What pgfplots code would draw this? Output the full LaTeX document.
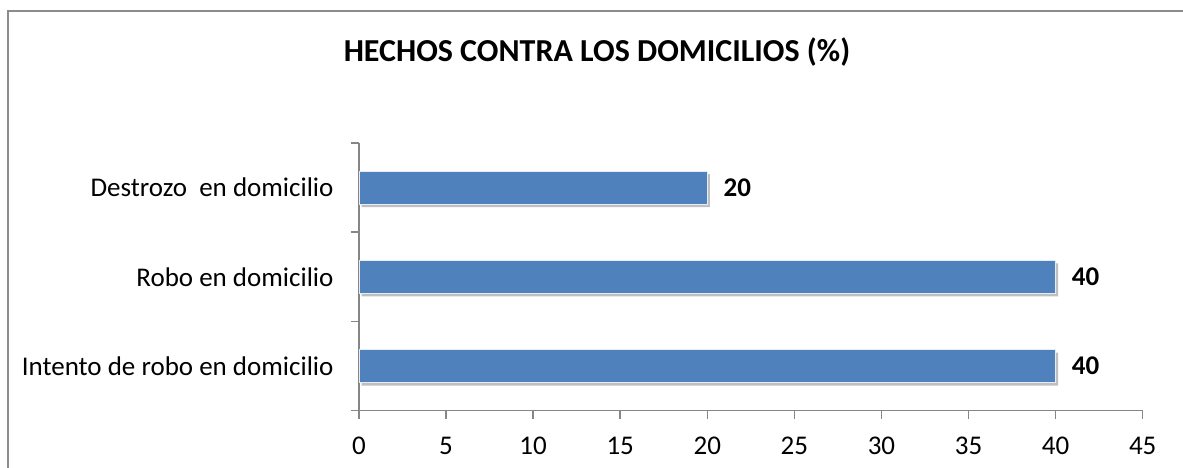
\documentclass[border=0pt]{standalone}
\usepackage{fontspec}
\setmainfont{Carlito}
\usepackage{pgfplots}
\pgfplotsset{compat=1.18}
\definecolor{barblue}{HTML}{4F81BD}
\definecolor{axgray}{HTML}{868686}
\definecolor{framegray}{HTML}{8C8C8C}
\begin{document}
\begin{tikzpicture}
\path[use as bounding box] (0pt,0pt) rectangle (1183pt,468pt);
\draw[color=framegray, line width=2pt] (7.5pt,-2pt) -- (7.5pt,456.5pt) -- (1183pt,456.5pt);
\node[anchor=base, font=\bfseries\fontsize{32}{37}\selectfont] at (597pt,406.3pt) {HECHOS CONTRA LOS DOMICILIOS (\%)};
\begin{axis}[
  at={(359pt,57.3pt)}, anchor=south west,
  scale only axis, width=783.7pt, height=267.7pt,
  xbar, bar width=33pt,
  xmin=0, xmax=45, ymin=-0.5, ymax=2.5,
  axis lines*=left,
  axis line style={axgray, line width=1.5pt},
  tick style={axgray, line width=1.5pt},
  tick align=outside, major tick length=8pt,
  xtick={0,5,...,45},
  ytick={-0.5,0.5,1.5,2.5}, yticklabels={,,,},
  extra y ticks={0,1,2},
  extra y tick labels={Intento de robo en domicilio, Robo en domicilio, Destrozo~ en domicilio},
  extra y tick style={major tick length=0pt, yticklabel style={xshift=-22pt}},
  ticklabel style={font=\fontsize{27}{32}\selectfont, text=black},
  xticklabel style={yshift=-15pt},
  /pgf/number format/assume math mode=true,
  clip=false,
]
\addplot[forget plot, fill=black, opacity=0.25, draw=none, xshift=2.5pt, yshift=-3pt]
  coordinates {(40,0) (40,1) (20,2)};
\addplot[fill=barblue, draw=white!85!barblue, line width=1pt,
  nodes near coords,
  nodes near coords style={font=\bfseries\fontsize{27}{32}\selectfont, text=black, xshift=12.5pt}]
  coordinates {(40,0) (40,1) (20,2)};
\end{axis}
\end{tikzpicture}
\end{document}
